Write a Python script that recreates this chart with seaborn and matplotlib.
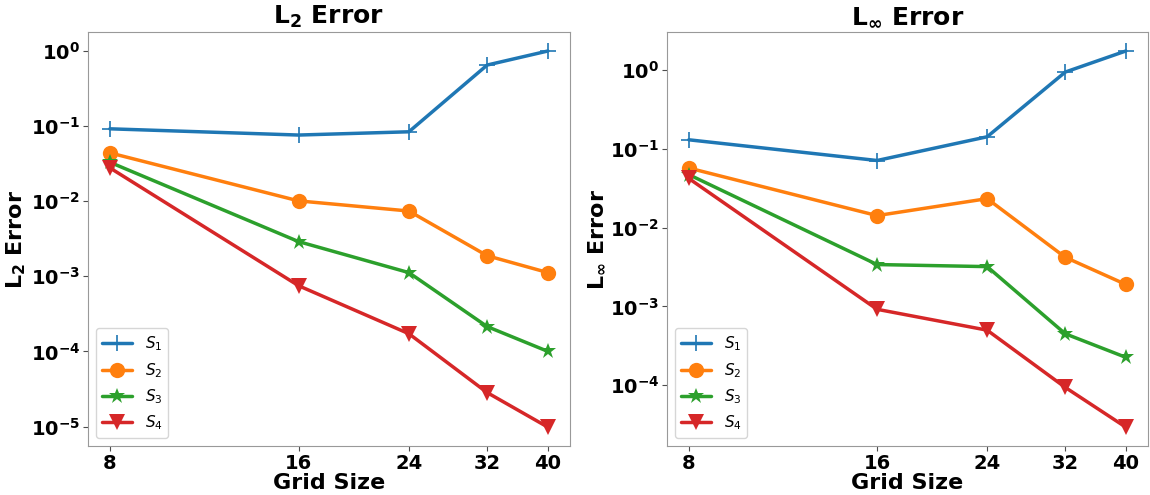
import numpy as np
import pandas as pd
import matplotlib
matplotlib.use("Agg")
import matplotlib.pyplot as plt
import matplotlib.ticker as mticker
import seaborn as sns

grid = [8, 16, 24, 32, 40]
series = [r"$\mathit{S}_1$", r"$\mathit{S}_2$", r"$\mathit{S}_3$", r"$\mathit{S}_4$"]

l2_s1 = [0.092, 0.076, 0.084, 0.65, 1.0]
l2_s2 = [0.044, 0.0101, 0.0074, 0.00188, 0.00112]
l2_s3 = [0.033, 0.0029, 0.00112, 0.000214, 0.0001]
l2_s4 = [0.0278, 0.00075, 0.000172, 2.83e-5, 9.8e-6]

linf_s1 = [0.13, 0.071, 0.142, 0.94, 1.74]
linf_s2 = [0.057, 0.0142, 0.0233, 0.0042, 0.0019]
linf_s3 = [0.047, 0.0034, 0.0032, 0.00045, 0.000226]
linf_s4 = [0.042, 0.00092, 0.0005, 9.4e-5, 2.94e-5]

markers = ["+", "o", "*", "v"]
colors = sns.color_palette("tab10", 4)

sns.set_style("ticks", {"axes.edgecolor": "0.6", "xtick.color": "0.3", "ytick.color": "0.3",
                        "text.color": "black", "axes.labelcolor": "black"})
plt.rcParams["font.family"] = ["DejaVu Sans"]
plt.rcParams["mathtext.default"] = "regular"


def make_df(vals):
    rows = []
    for name, v in zip(series, vals):
        for g, e in zip(grid, v):
            rows.append({"grid": g, "err": e, "series": name})
    return pd.DataFrame(rows)


fig = plt.figure(figsize=(11.5, 4.95), dpi=100)
ax1 = fig.add_axes([0.0765, 0.099, 0.419, 0.836])
ax2 = fig.add_axes([0.58, 0.099, 0.418, 0.836])

panels = [
    (ax1, [l2_s1, l2_s2, l2_s3, l2_s4], "L$_2$ Error"),
    (ax2, [linf_s1, linf_s2, linf_s3, linf_s4], "L$_\\infty$ Error"),
]

for ax, vals, name in panels:
    df = make_df(vals)
    for i, s in enumerate(series):
        sub = df[df["series"] == s]
        sns.lineplot(data=sub, x="grid", y="err", ax=ax, color=colors[i],
                     marker=markers[i], markersize=11 if markers[i] != "*" else 12,
                     markeredgewidth=1.2 if markers[i] == "+" else 0,
                     markeredgecolor=colors[i],
                     linewidth=2.5, label=s)
    ax.set_xscale("log")
    ax.set_yscale("log")
    ax.set_xticks(grid)
    ax.xaxis.set_major_formatter(mticker.FixedFormatter([str(g) for g in grid]))
    ax.xaxis.set_minor_locator(mticker.NullLocator())
    ax.yaxis.set_minor_locator(mticker.NullLocator())
    ax.tick_params(labelsize=14, colors="0.3", labelcolor="black", pad=2)
    for lab in ax.get_xticklabels() + ax.get_yticklabels():
        lab.set_fontweight("bold")
    ax.set_title(name, fontsize=18, fontweight="bold", color="black")
    ax.set_xlabel("Grid Size", fontsize=16, fontweight="bold", labelpad=0)
    ax.set_ylabel(name, fontsize=16, fontweight="bold", labelpad=2)
    ax.legend(loc="lower left", prop={"size": 11, "weight": "normal"})

fig.savefig("out.png", dpi=100)
